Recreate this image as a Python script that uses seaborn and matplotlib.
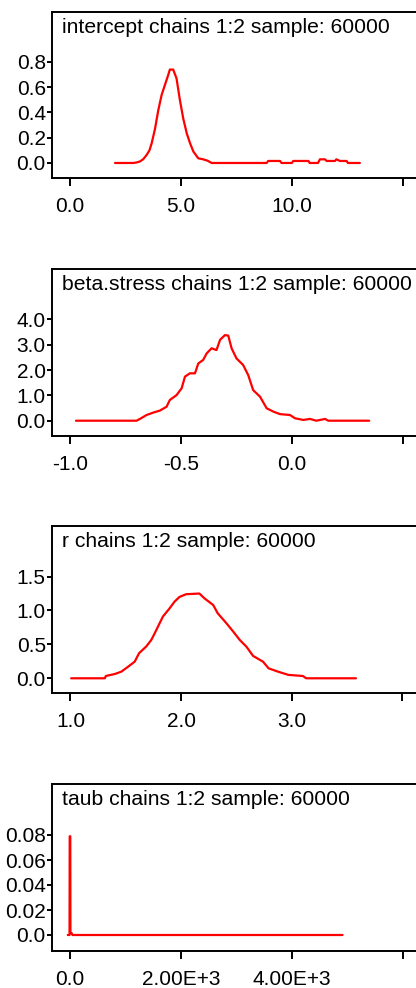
import matplotlib
matplotlib.use('Agg')
import matplotlib.pyplot as plt
import seaborn as sns

# density curves
x1 = [2.03, 2.85, 3.0, 3.15, 3.3, 3.45, 3.58, 3.68, 3.83, 3.98, 4.13, 4.28, 4.43, 4.5, 4.65,
      4.8, 4.95, 5.1, 5.26, 5.41, 5.56, 5.78, 6.0, 6.2, 6.38, 8.86, 8.93, 9.46, 9.53, 9.99,
      10.06, 10.74, 10.8, 11.17, 11.26, 11.49, 11.56, 11.94, 12.0, 12.16, 12.46, 12.52, 13.06]
y1 = [0, 0, 0.004, 0.012, 0.03, 0.063, 0.1, 0.156, 0.27, 0.42, 0.54, 0.62, 0.70, 0.74, 0.74,
      0.67, 0.50, 0.354, 0.235, 0.156, 0.09, 0.037, 0.029, 0.018, 0, 0, 0.016, 0.016, 0, 0,
      0.016, 0.016, 0, 0, 0.029, 0.029, 0.016, 0.016, 0.029, 0.016, 0.016, 0, 0]

x2 = [-0.973, -0.70, -0.685, -0.655, -0.625, -0.595, -0.565, -0.55, -0.52, -0.497, -0.482,
      -0.46, -0.437, -0.422, -0.40, -0.384, -0.362, -0.34, -0.324, -0.302, -0.287, -0.272,
      -0.25, -0.22, -0.197, -0.175, -0.144, -0.114, -0.084, -0.054, -0.009, 0.014, 0.051,
      0.081, 0.11, 0.149, 0.164, 0.348]
y2 = [0, 0, 0.07, 0.225, 0.32, 0.40, 0.55, 0.82, 1.01, 1.28, 1.74,
      1.87, 1.87, 2.26, 2.40, 2.66, 2.86, 2.79, 3.19, 3.38, 3.36, 2.86,
      2.46, 2.2, 1.80, 1.21, 0.95, 0.49, 0.36, 0.26, 0.225, 0.095, 0.03,
      0.07, 0, 0.07, 0, 0]

x3 = [1.006, 1.31, 1.32, 1.40, 1.46, 1.52, 1.58, 1.62, 1.685, 1.73, 1.76, 1.79, 1.835, 1.895,
      1.94, 1.985, 2.045, 2.105, 2.165, 2.21, 2.29, 2.33, 2.41, 2.47, 2.53, 2.59, 2.65, 2.74,
      2.79, 2.875, 2.97, 3.10, 3.13, 3.58]
y3 = [0, 0, 0.034, 0.063, 0.098, 0.17, 0.245, 0.37, 0.47, 0.565, 0.66, 0.76, 0.91, 1.03,
      1.13, 1.20, 1.24, 1.245, 1.25, 1.18, 1.08, 0.96, 0.81, 0.69, 0.565, 0.466, 0.33, 0.245,
      0.147, 0.098, 0.05, 0.034, 0, 0]

x4 = [-40, -8, -5, 5, 8, 30, 45, 4910]
y4 = [0, 0, 0.079, 0.079, 0.0015, 0.0015, 0, 0]

titles = ['intercept chains 1:2 sample: 60000',
          'beta.stress chains 1:2 sample: 60000',
          'r chains 1:2 sample: 60000',
          'taub chains 1:2 sample: 60000']

xticks = [[0, 5, 10, 15], [-1.0, -0.5, 0.0, 0.5], [1, 2, 3, 4], [0, 2000, 4000, 6000]]
xticklabels = [['0.0', '5.0', '10.0', ''], ['-1.0', '-0.5', '0.0', ''],
               ['1.0', '2.0', '3.0', ''], ['0.0', '2.00E+3', '4.00E+3', '']]
yticks = [[0, 0.2, 0.4, 0.6, 0.8], [0, 1, 2, 3, 4], [0, 0.5, 1.0, 1.5],
          [0, 0.02, 0.04, 0.06, 0.08]]
yticklabels = [['0.0', '0.2', '0.4', '0.6', '0.8'], ['0.0', '1.0', '2.0', '3.0', '4.0'],
               ['0.0', '0.5', '1.0', '1.5'], ['0.0', '0.02', '0.04', '0.06', '0.08']]

sns.set_style('ticks')
plt.rcParams['font.family'] = ['Liberation Sans', 'DejaVu Sans']
plt.rcParams['text.color'] = 'black'
plt.rcParams['xtick.color'] = 'black'
plt.rcParams['ytick.color'] = 'black'

W, H = 416, 988
fig = plt.figure(figsize=(W / 100, H / 100), dpi=100)

# box pixel rows (top, bottom) and axis limits
boxes = [(12, 178), (269, 436), (526, 693), (784, 951)]
xlims = [(-0.81, 17.57), (-1.081, 0.757), (0.833, 4.52), (-324, 7027)]
ylims = [(-0.119, 1.196), (-0.604, 5.99), (-0.217, 2.246), (-0.0128, 0.1208)]
left_px, right_px = 52, 460

data = [(x1, y1), (x2, y2), (x3, y3), (x4, y4)]
for i, (xs, ys) in enumerate(data):
    top, bot = boxes[i]
    ax = fig.add_axes([left_px / W, 1 - bot / H, (right_px - left_px) / W, (bot - top) / H])
    sns.lineplot(x=xs, y=ys, ax=ax, color='red', lw=1.6, sort=False, estimator=None)
    ax.set_xlim(*xlims[i])
    ax.set_ylim(*ylims[i])
    ax.set_xticks(xticks[i])
    ax.set_xticklabels(xticklabels[i])
    ax.set_yticks(yticks[i])
    ax.set_yticklabels(yticklabels[i])
    for sp in ax.spines.values():
        sp.set_visible(True)
        sp.set_linewidth(1.4)
        sp.set_color('black')
    ax.tick_params(axis='x', direction='out', length=6, width=1.4, pad=8, labelsize=15,
                   colors='black')
    ax.tick_params(axis='y', direction='out', length=3.5, width=1.4, pad=1, labelsize=15,
                   colors='black')
    ax.annotate(titles[i], xy=(0, 1), xycoords='axes fraction', xytext=(10, -6),
                textcoords='offset pixels', ha='left', va='top', fontsize=15.2,
                color='black')

fig.savefig('out.png', dpi=100)
